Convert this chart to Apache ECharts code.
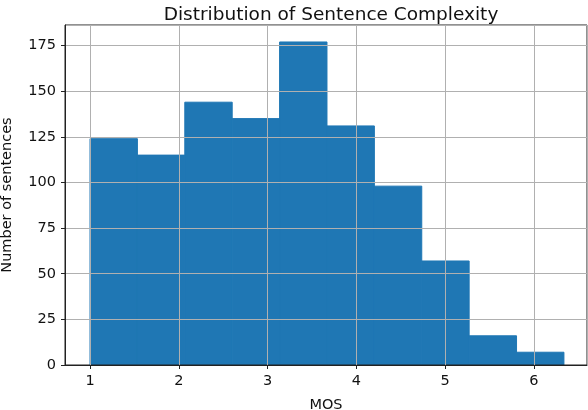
<!DOCTYPE html>
<html>
<head>
<meta charset="utf-8">
<script src="https://cdn.jsdelivr.net/npm/echarts@6/dist/echarts.min.js"></script>
<style>
html, body { margin: 0; padding: 0; background: #fff; }
#chart { width: 588px; height: 410px; }
</style>
</head>
<body>
<div id="chart"></div>
<script>
// histogram bins (MOS) and counts
var binStart = 1.0;
var binWidth = 0.534;
var counts = [124, 115, 144, 135, 177, 131, 98, 57, 16, 7];

var title = 'Distribution of Sentence Complexity';
var xName = 'MOS';
var yName = 'Number of sentences';

var bins = counts.map(function (c, i) {
    return [binStart + i * binWidth, binStart + (i + 1) * binWidth, c];
});

var font = 'DejaVu Sans';
var myChart = echarts.init(document.getElementById('chart'), null, { renderer: 'canvas' });

var option = {
    animation: false,
    title: {
        text: title,
        left: 326,
        top: 1,
        textAlign: 'center',
        textStyle: { fontFamily: font, fontSize: 18.5, fontWeight: 'normal', color: '#111' }
    },
    grid: {
        left: 65, right: 1, top: 25, bottom: 45,
        outerBoundsMode: 'none',
        containLabel: false,
        show: true, borderColor: '#222', borderWidth: 1
    },
    xAxis: {
        type: 'value',
        min: 0.718,
        max: 6.6,
        splitNumber: 5,
        name: xName,
        nameLocation: 'middle',
        nameGap: 33,
        nameTextStyle: { fontFamily: font, fontSize: 14.5, color: '#111' },
        axisLine: { show: true, onZero: false, lineStyle: { color: '#222', width: 1 } },
        axisTick: { show: true, length: 4, lineStyle: { color: '#222' } },
        axisLabel: {
            showMinLabel: false, showMaxLabel: false, margin: 9,
            fontFamily: font, fontSize: 14.5, color: '#111',
            formatter: function (v) { return Number.isInteger(v) ? String(v) : ''; }
        },
        splitLine: { show: true, lineStyle: { color: '#b0b0b0', width: 1 } }
    },
    yAxis: {
        type: 'value',
        min: 0,
        max: 186.3,
        interval: 25,
        name: yName,
        nameLocation: 'middle',
        nameGap: 50,
        nameTextStyle: { fontFamily: font, fontSize: 14.5, color: '#111' },
        axisLine: { show: true, lineStyle: { color: '#222', width: 1 } },
        axisTick: { show: true, length: 4, lineStyle: { color: '#222' } },
        axisLabel: {
            showMaxLabel: false, margin: 9,
            fontFamily: font, fontSize: 14.5, color: '#111'
        },
        splitLine: { show: true, lineStyle: { color: '#b0b0b0', width: 1 } }
    },
    series: [{
        type: 'custom',
        z: -1,
        data: bins,
        encode: { x: [0, 1], y: 2 },
        renderItem: function (params, api) {
            var p0 = api.coord([api.value(0), api.value(2)]);
            var p1 = api.coord([api.value(1), 0]);
            return {
                type: 'rect',
                shape: { x: p0[0], y: p0[1], width: p1[0] - p0[0], height: p1[1] - p0[1] },
                style: { fill: '#1f77b4', stroke: '#1f77b4', lineWidth: 1 }
            };
        }
    }]
};
myChart.setOption(option);
</script>
</body>
</html>
